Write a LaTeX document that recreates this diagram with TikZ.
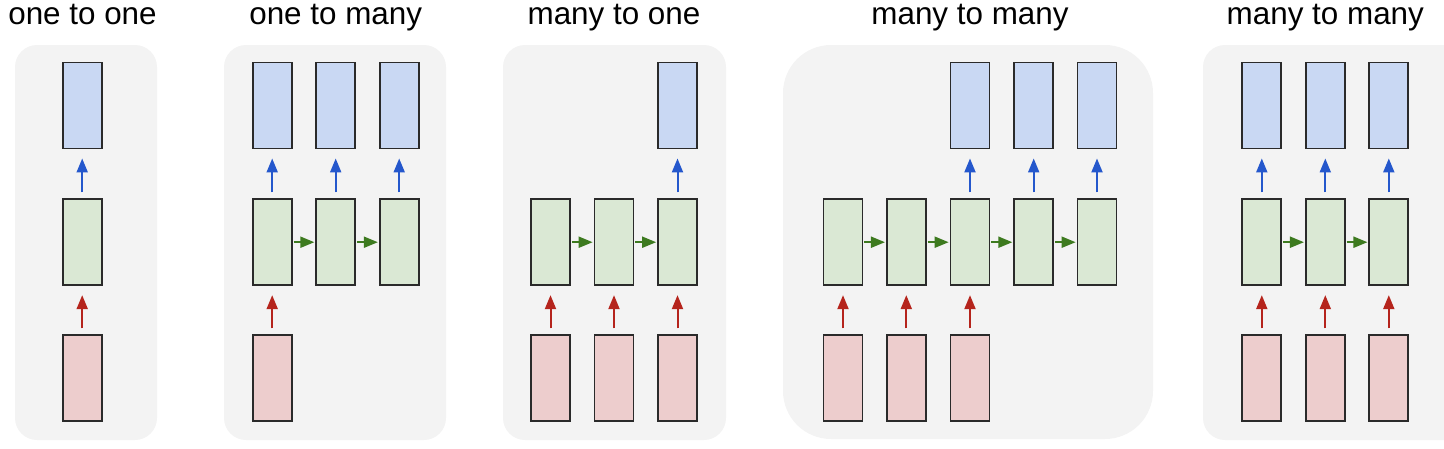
\documentclass[tikz,border=0pt]{standalone}
\usepackage{fontspec}
\setmainfont{Liberation Sans}
\usetikzlibrary{arrows.meta}
\definecolor{panelbg}{HTML}{F3F3F3}
\definecolor{outfill}{HTML}{C9D8F3}
\definecolor{hidfill}{HTML}{DAE8D4}
\definecolor{infill}{HTML}{EDCDCD}
\definecolor{boxline}{HTML}{2A2A2A}
\definecolor{outarrow}{HTML}{2457CC}
\definecolor{hidarrow}{HTML}{3D7A1F}
\definecolor{inarrow}{HTML}{B5241C}
\tikzset{
  panel/.style={fill=panelbg, draw=none},
  cell/.style={draw=boxline, line width=1.9pt, minimum width=39pt, minimum height=86pt, inner sep=0pt},
  outbox/.style={cell, fill=outfill},
  hidbox/.style={cell, fill=hidfill},
  inbox/.style={cell, fill=infill},
  arr/.style={line width=2pt, -{Triangle[length=14pt,width=11pt]}},
  uparr/.style={arr, shorten <=6pt, shorten >=9pt},
  outarr/.style={uparr, draw=outarrow},
  inarr/.style={uparr, draw=inarrow},
  hidarr/.style={arr, draw=hidarrow, shorten <=0.9pt, shorten >=0.9pt},
  title/.style={anchor=base, font=\fontsize{31.4}{36}\selectfont, inner sep=0pt}
}
\begin{document}
\begin{tikzpicture}[x=1pt,y=-1pt]
\useasboundingbox (0,0) rectangle (1444,448);
% panels
\fill[panel, rounded corners=22pt] (15,45) rectangle (157,440);
\fill[panel, rounded corners=22pt] (224,45) rectangle (446,440);
\fill[panel, rounded corners=22pt] (503,45) rectangle (726,440);
\fill[panel, rounded corners=48pt] (783,45) rectangle (1153,439);
\fill[panel, rounded corners=22pt] (1203,45) rectangle (1466,440);
% titles
\node[title] (t1) at (82.5,24) {one to one};
\node[title] (t2) at (335.7,24) {one to many};
\node[title] (t3) at (614,24) {many to one};
\node[title] (t4) at (970,24) {many to many};
\node[title] (t5) at (1325.3,24) {many to many};
% panel 1
\node[outbox] (a1o) at (82.2,105.5) {};
\node[hidbox] (a1h) at (82.2,242.2) {};
\node[inbox]  (a1i) at (82.2,378.3) {};
\draw[outarr] (a1h) -- (a1o);
\draw[inarr] (a1i) -- (a1h);
% panel 2
\foreach \i/\x in {1/272.2,2/335.7,3/399.2}{
  \node[outbox] (b\i o) at (\x,105.5) {};
  \node[hidbox] (b\i h) at (\x,242.2) {};
  \draw[outarr] (b\i h) -- (b\i o);
}
\node[inbox] (b1i) at (272.2,378.3) {};
\draw[inarr] (b1i) -- (b1h);
\draw[hidarr] (b1h) -- (b2h);
\draw[hidarr] (b2h) -- (b3h);
% panel 3
\foreach \i/\x in {1/550.5,2/614,3/677.5}{
  \node[hidbox] (c\i h) at (\x,242.2) {};
  \node[inbox] (c\i i) at (\x,378.3) {};
  \draw[inarr] (c\i i) -- (c\i h);
}
\node[outbox] (c3o) at (677.5,105.5) {};
\draw[outarr] (c3h) -- (c3o);
\draw[hidarr] (c1h) -- (c2h);
\draw[hidarr] (c2h) -- (c3h);
% panel 4
\foreach \i/\x in {1/843,2/906.3,3/970,4/1033.7,5/1097}{
  \node[hidbox] (d\i h) at (\x,242.2) {};
}
\foreach \i/\x in {1/843,2/906.3,3/970}{
  \node[inbox] (d\i i) at (\x,378.3) {};
  \draw[inarr] (d\i i) -- (d\i h);
}
\foreach \i/\x in {3/970,4/1033.7,5/1097}{
  \node[outbox] (d\i o) at (\x,105.5) {};
  \draw[outarr] (d\i h) -- (d\i o);
}
\draw[hidarr] (d1h) -- (d2h);
\draw[hidarr] (d2h) -- (d3h);
\draw[hidarr] (d3h) -- (d4h);
\draw[hidarr] (d4h) -- (d5h);
% panel 5
\foreach \i/\x in {1/1261.8,2/1325.3,3/1388.8}{
  \node[outbox] (e\i o) at (\x,105.5) {};
  \node[hidbox] (e\i h) at (\x,242.2) {};
  \node[inbox] (e\i i) at (\x,378.3) {};
  \draw[outarr] (e\i h) -- (e\i o);
  \draw[inarr] (e\i i) -- (e\i h);
}
\draw[hidarr] (e1h) -- (e2h);
\draw[hidarr] (e2h) -- (e3h);
\end{tikzpicture}
\end{document}
